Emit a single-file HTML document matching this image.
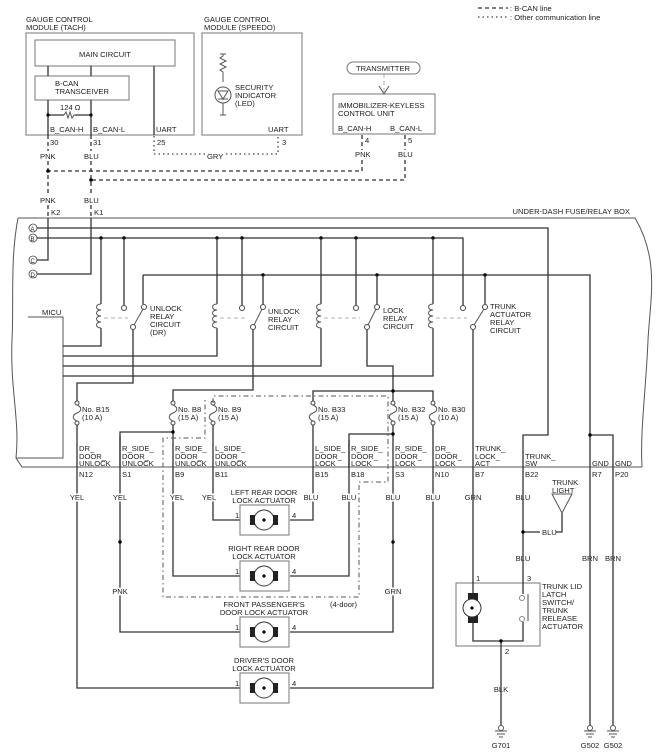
<!DOCTYPE html>
<html><head><meta charset="utf-8"><style>
html,body{margin:0;padding:0;background:#fff;}
svg{display:block;}
text{font-family:"Liberation Sans",Arial,sans-serif;font-size:7.6px;fill:#222;}
.m text,text.m{stroke:#fff;stroke-width:3px;paint-order:stroke;}
.w{stroke:#333;stroke-width:1.3;fill:none;}
.t{stroke:#555;stroke-width:1;fill:none;}
.d{stroke:#333;stroke-width:1.3;fill:none;stroke-dasharray:4,3;}
.o{stroke:#444;stroke-width:1.3;fill:none;stroke-dasharray:1.5,3;}
.g{stroke:#999;stroke-width:0.8;fill:none;stroke-dasharray:4,3;}
.b{stroke:#777;stroke-width:1;fill:none;}
.dd{stroke:#555;stroke-width:1;fill:none;stroke-dasharray:5,3,1.5,3;}
</style></head><body>
<svg width="657" height="756" viewBox="0 0 657 756" xmlns="http://www.w3.org/2000/svg">
<defs>
<g id="coil"><path class="t" d="M0,0 c-6,0 -6,6 0,6 c-6,0 -6,6 0,6 c-6,0 -6,6 0,6 c-6,0 -6,6 0,6"/></g>
<g id="fuse"><circle cx="0" cy="0" r="2" fill="#fff" stroke="#444"/><circle cx="0" cy="20" r="2" fill="#fff" stroke="#444"/><path class="t" d="M0,2 c5,2 5,6 0,8 c-5,2 -5,6 0,8"/></g>
<g id="motor"><rect x="-24" y="-15" width="49" height="30" fill="#fff" stroke="#777"/><circle cx="0" cy="0" r="10" fill="#fff" stroke="#333"/><circle cx="0" cy="0" r="1.6" fill="#000"/><rect x="-14" y="-5" width="5" height="10" fill="#222"/><rect x="9" y="-5" width="5" height="10" fill="#222"/></g>
<g id="gnd"><circle cx="0" cy="0" r="2.5" fill="#fff" stroke="#555"/><path class="t" d="M-6,3 h12 M-4,6 h8 M-2,9 h4"/></g>
</defs>

<path class="d" d="M478,8 h30"/><text x="510" y="11">: B-CAN line</text>
<path class="o" d="M478,17 h30"/><text x="510" y="20">: Other communication line</text>

<text x="26" y="22">GAUGE CONTROL</text><text x="26" y="30">MODULE (TACH)</text>
<rect x="26" y="33" width="168" height="102" class="b"/>
<rect x="35" y="40" width="140" height="26" class="b"/>
<text x="105" y="57" text-anchor="middle">MAIN CIRCUIT</text>
<rect x="35" y="76" width="94" height="24" class="b"/>
<text x="55" y="86">B-CAN</text><text x="55" y="94">TRANSCEIVER</text>
<path class="w" d="M48,66 v10 M91,66 v10 M48,100 v35 M91,100 v35 M154,66 v69 M48,115 h16 M75,115 h16"/>
<path class="t" d="M64,115 l2,-3 l2,6 l2,-6 l2,6 l2,-3 h1"/>
<circle cx="48" cy="115" r="1.6" fill="#000"/><circle cx="91" cy="115" r="1.6" fill="#000"/>
<text x="60" y="110">124 Ω</text>
<text x="50" y="132">B_CAN-H</text><text x="93" y="132">B_CAN-L</text><text x="156" y="132">UART</text>
<text x="50" y="145">30</text><text x="93" y="145">31</text><text x="157" y="145">25</text>

<text x="204" y="22">GAUGE CONTROL</text><text x="204" y="30">MODULE (SPEEDO)</text>
<rect x="202" y="33" width="100" height="102" class="b"/>
<path class="t" d="M223,54 v2 l-3,2 l6,3 l-6,3 l6,3 l-6,3 l3,2 v10 M223,103 v12 M220,54 h6 M220,115 h6"/>
<circle cx="223" cy="95" r="8" class="t"/>
<path class="t" d="M218,91 h10 l-5,8 z M218,99 h10"/>
<text x="235" y="90">SECURITY</text><text x="235" y="98">INDICATOR</text><text x="235" y="106">(LED)</text>
<text x="268" y="132">UART</text><text x="282" y="145">3</text>
<path class="o" d="M154,136 v18 h124 v-18"/>
<text x="207" y="159" class="m">GRY</text>

<rect x="347" y="62" width="73" height="12" rx="6" class="b"/>
<text x="383" y="71" text-anchor="middle">TRANSMITTER</text>
<path class="g" d="M384,74 v18"/><path class="t" d="M379,86 l5,8 l5,-8"/>
<rect x="333" y="94" width="102" height="40" class="b"/>
<text x="338" y="108">IMMOBILIZER-KEYLESS</text><text x="338" y="116">CONTROL UNIT</text>
<text x="338" y="131">B_CAN-H</text><text x="390" y="131">B_CAN-L</text>
<text x="365" y="143">4</text><text x="408" y="143">5</text>
<text x="355" y="157">PNK</text><text x="398" y="157">BLU</text>
<path class="d" d="M362,135 v15 M362,160 v11 h-314 M405,135 v15 M405,160 v20 h-314 M48,135 v16 M48,161 v34 M91,135 v16 M91,161 v34 M48,205 v13 M91,205 v13"/>
<circle cx="48" cy="171" r="1.8" fill="#000"/><circle cx="91" cy="180" r="1.8" fill="#000"/>
<text x="40" y="159">PNK</text><text x="84" y="159">BLU</text>
<text x="40" y="203">PNK</text><text x="84" y="203">BLU</text>
<text x="51" y="215">K2</text><text x="94" y="215">K1</text>

<text x="630" y="214" text-anchor="end">UNDER-DASH FUSE/RELAY BOX</text>
<path class="t" d="M18,218 H635 C660,260 650,300 648,340 C646,390 640,430 642,467 M18,218 C10,260 14,300 12,340 C10,390 20,420 16,458 L22,467 H642"/>
<text x="42" y="315">MICU</text>
<path class="t" d="M28,317 H63 V458 H16"/>

<g fill="#fff" stroke="#444" stroke-width="0.8"><circle cx="33" cy="228" r="4"/><circle cx="33" cy="238" r="4"/><circle cx="33" cy="260" r="4"/><circle cx="33" cy="274" r="4"/></g>
<text x="30.5" y="231" style="font-size:6px">A</text><text x="30.5" y="241" style="font-size:6px">B</text><text x="30.5" y="263" style="font-size:6px">C</text><text x="30.5" y="277" style="font-size:6px">D</text>
<path class="w" d="M37,228 H548 V435 H523 V467 M37,238 H463 V306 M37,260 H48 V218 M37,274 H91 V218 M143,275 H590 V467 M590,435 H613 V467"/>
<g fill="#000"><circle cx="101" cy="238" r="1.7"/><circle cx="124" cy="238" r="1.7"/><circle cx="217" cy="238" r="1.7"/><circle cx="242" cy="238" r="1.7"/><circle cx="321" cy="238" r="1.7"/><circle cx="356" cy="238" r="1.7"/><circle cx="433" cy="238" r="1.7"/>
<circle cx="263" cy="275" r="1.7"/><circle cx="377" cy="275" r="1.7"/><circle cx="485" cy="275" r="1.7"/><circle cx="590" cy="435" r="1.7"/></g>

<g>
<path class="w" d="M101,238 V304 M101,328 V346 H63 M124,238 V305 M143,275 V304 M133,330 V383 H77 V403"/>
<use href="#coil" x="101" y="304"/>
<path class="g" d="M104,318 H128"/>
<circle cx="124" cy="308" r="2.5" fill="#fff" stroke="#444"/><circle cx="144" cy="307" r="2.5" fill="#fff" stroke="#444"/><circle cx="133" cy="327" r="2.5" fill="#fff" stroke="#444"/>
<path class="t" d="M134,325 L143,309"/>
<text x="150" y="311">UNLOCK</text><text x="150" y="319">RELAY</text><text x="150" y="327">CIRCUIT</text><text x="150" y="335">(DR)</text>
</g>
<g>
<path class="w" d="M217,238 V304 M217,328 V356 H63 M242,238 V305 M263,275 V304 M253,330 V390 H173 V403"/>
<use href="#coil" x="217" y="304"/>
<path class="g" d="M220,318 H246"/>
<circle cx="242" cy="308" r="2.5" fill="#fff" stroke="#444"/><circle cx="263" cy="307" r="2.5" fill="#fff" stroke="#444"/><circle cx="253" cy="327" r="2.5" fill="#fff" stroke="#444"/>
<path class="t" d="M254,325 L262,309"/>
<text x="268" y="314">UNLOCK</text><text x="268" y="322">RELAY</text><text x="268" y="330">CIRCUIT</text>
</g>
<g>
<path class="w" d="M321,238 V304 M321,328 V366 H63 M356,238 V305 M377,275 V304 M367,330 V366 H393 V403 M313,403 V391 H433 V403"/>
<use href="#coil" x="321" y="304"/>
<path class="g" d="M324,318 H360"/>
<circle cx="356" cy="308" r="2.5" fill="#fff" stroke="#444"/><circle cx="377" cy="307" r="2.5" fill="#fff" stroke="#444"/><circle cx="367" cy="327" r="2.5" fill="#fff" stroke="#444"/>
<path class="t" d="M368,325 L376,309"/>
<text x="383" y="313">LOCK</text><text x="383" y="321">RELAY</text><text x="383" y="329">CIRCUIT</text>
<circle cx="393" cy="391" r="1.7" fill="#000"/>
</g>
<g>
<path class="w" d="M433,238 V304 M433,328 V376 H63 M485,275 V304 M473,330 V467"/>
<use href="#coil" x="433" y="304"/>
<path class="g" d="M436,318 H467"/>
<circle cx="463" cy="308" r="2.5" fill="#fff" stroke="#444"/><circle cx="485" cy="307" r="2.5" fill="#fff" stroke="#444"/><circle cx="473" cy="327" r="2.5" fill="#fff" stroke="#444"/>
<path class="t" d="M474,325 L484,309"/>
<text x="490" y="309">TRUNK</text><text x="490" y="317">ACTUATOR</text><text x="490" y="325">RELAY</text><text x="490" y="333">CIRCUIT</text>
</g>

<use href="#fuse" x="77" y="403"/><text x="82" y="412">No. B15</text><text x="82" y="420">(10 A)</text>
<use href="#fuse" x="173" y="403"/><text x="178" y="412">No. B8</text><text x="178" y="420">(15 A)</text>
<use href="#fuse" x="213" y="403"/><text x="218" y="412">No. B9</text><text x="218" y="420">(15 A)</text>
<use href="#fuse" x="313" y="403"/><text x="318" y="412">No. B33</text><text x="318" y="420">(15 A)</text>
<use href="#fuse" x="393" y="403"/><text x="398" y="412">No. B32</text><text x="398" y="420">(15 A)</text>
<use href="#fuse" x="433" y="403"/><text x="438" y="412">No. B30</text><text x="438" y="420">(10 A)</text>
<path class="w" d="M77,425 V688 H240 M173,425 V576 H240 M173,432 H120 V632 H240 M213,425 V520 H240 M313,425 V520 H290 M393,425 V632 H290 M393,434 H349 V576 H290 M433,425 V688 H290"/>
<g fill="#000"><circle cx="173" cy="432" r="1.7"/><circle cx="393" cy="434" r="1.7"/><circle cx="120" cy="542" r="1.7"/><circle cx="393" cy="542" r="1.7"/></g>
<path class="dd" d="M213,403 V396 H388 V482 H359 V597 H163 V438 H205 V397"/>
<text x="330" y="607" class="m">(4-door)</text>

<g>
<text x="79" y="451">DR_</text><text x="79" y="459">DOOR_</text><text x="79" y="466">UNLOCK</text><text x="79" y="477">N12</text>
<text x="122" y="451">R_SIDE_</text><text x="122" y="459">DOOR_</text><text x="122" y="466">UNLOCK</text><text x="122" y="477">S1</text>
<text x="175" y="451">R_SIDE_</text><text x="175" y="459">DOOR_</text><text x="175" y="466">UNLOCK</text><text x="175" y="477">B9</text>
<text x="215" y="451">L_SIDE_</text><text x="215" y="459">DOOR_</text><text x="215" y="466">UNLOCK</text><text x="215" y="477">B11</text>
<text x="315" y="451">L_SIDE_</text><text x="315" y="459">DOOR_</text><text x="315" y="466">LOCK</text><text x="315" y="477">B15</text>
<text x="351" y="451">R_SIDE_</text><text x="351" y="459">DOOR_</text><text x="351" y="466">LOCK</text><text x="351" y="477">B18</text>
<text x="395" y="451">R_SIDE_</text><text x="395" y="459">DOOR_</text><text x="395" y="466">LOCK</text><text x="395" y="477">S3</text>
<text x="435" y="451">DR_</text><text x="435" y="459">DOOR_</text><text x="435" y="466">LOCK</text><text x="435" y="477">N10</text>
<text x="475" y="451">TRUNK_</text><text x="475" y="459">LOCK_</text><text x="475" y="466">ACT</text><text x="475" y="477">B7</text>
<text x="525" y="459">TRUNK_</text><text x="525" y="466">SW</text><text x="525" y="477">B22</text>
<text x="592" y="466">GND</text><text x="592" y="477">R7</text>
<text x="615" y="466">GND</text><text x="615" y="477">P20</text>
<path class="w" d="M120,467 V436 M349,467 V440"/>
</g>

<g text-anchor="middle" class="m">
<text x="77" y="500">YEL</text><text x="120" y="500">YEL</text><text x="177" y="500">YEL</text><text x="209" y="500">YEL</text>
<text x="311" y="500">BLU</text><text x="349" y="500">BLU</text><text x="393" y="500">BLU</text><text x="433" y="500">BLU</text>
<text x="473" y="500">GRN</text><text x="523" y="500">BLU</text>
<text x="120" y="594">PNK</text><text x="393" y="594">GRN</text>
<text x="523" y="561">BLU</text><text x="590" y="561">BRN</text><text x="613" y="561">BRN</text>
<text x="501" y="692">BLK</text>
</g>

<text x="264" y="495" text-anchor="middle">LEFT REAR DOOR</text><text x="264" y="503" text-anchor="middle">LOCK ACTUATOR</text>
<use href="#motor" x="264" y="520"/><text x="235" y="518">1</text><text x="292" y="518">4</text>
<text x="264" y="551" text-anchor="middle">RIGHT REAR DOOR</text><text x="264" y="559" text-anchor="middle">LOCK ACTUATOR</text>
<use href="#motor" x="264" y="576"/><text x="235" y="574">1</text><text x="292" y="574">4</text>
<text x="264" y="607" text-anchor="middle" class="m">FRONT PASSENGER'S</text><text x="264" y="615" text-anchor="middle">DOOR LOCK ACTUATOR</text>
<use href="#motor" x="264" y="632"/><text x="235" y="630">1</text><text x="292" y="630">4</text>
<text x="264" y="663" text-anchor="middle">DRIVER'S DOOR</text><text x="264" y="671" text-anchor="middle">LOCK ACTUATOR</text>
<use href="#motor" x="264" y="688"/><text x="235" y="686">1</text><text x="292" y="686">4</text>

<rect x="456" y="583" width="84" height="63" fill="none" stroke="#777"/>
<path class="w" d="M473,467 V593 M473,623 V641 H523 V622 M523,467 V594 M501,641 V725 M613,467 V725 M590,467 V725 M523,532 H540 M556,532 H562 V513"/>
<rect x="468" y="593" width="10" height="8" fill="#222"/><rect x="468" y="615" width="10" height="8" fill="#222"/>
<circle cx="472" cy="608" r="9" fill="#fff" stroke="#333"/><circle cx="472" cy="608" r="1.6" fill="#000"/>
<circle cx="522" cy="598" r="2.5" fill="#fff" stroke="#888"/><circle cx="522" cy="619" r="2.5" fill="#fff" stroke="#888"/>
<path stroke="#888" stroke-width="1.5" d="M528,594 V621"/>
<circle cx="501" cy="641" r="1.7" fill="#000"/><circle cx="523" cy="532" r="1.7" fill="#000"/>
<text x="476" y="581">1</text><text x="527" y="581">3</text><text x="505" y="654">2</text>
<text x="542" y="589">TRUNK LID</text><text x="542" y="597">LATCH</text><text x="542" y="605">SWITCH/</text><text x="542" y="613">TRUNK</text><text x="542" y="621">RELEASE</text><text x="542" y="629">ACTUATOR</text>
<text x="552" y="485">TRUNK</text><text x="552" y="493">LIGHT</text>
<path class="t" d="M552,494 H572 L562,513 Z"/>
<text x="542" y="535">BLU</text>
<use href="#gnd" x="501" y="728"/><use href="#gnd" x="590" y="728"/><use href="#gnd" x="613" y="728"/>
<text x="501" y="748" text-anchor="middle">G701</text><text x="590" y="748" text-anchor="middle">G502</text><text x="613" y="748" text-anchor="middle">G502</text>
</svg>
</body></html>
